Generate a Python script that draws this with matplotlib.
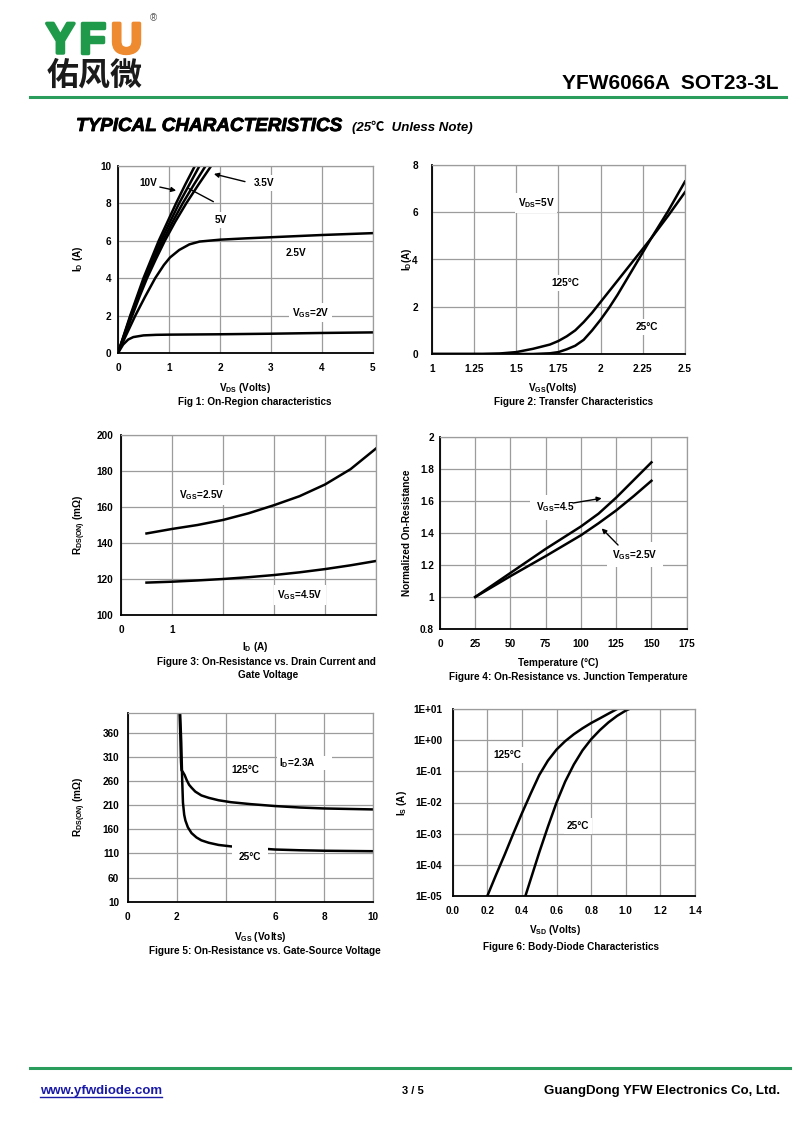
import matplotlib
matplotlib.use('Agg')
import matplotlib.pyplot as plt
from matplotlib.patches import Rectangle
from matplotlib.lines import Line2D
from matplotlib.ticker import NullLocator
import matplotlib.patheffects as pe

plt.rcParams['font.family'] = ['Liberation Sans', 'Noto Sans CJK SC', 'DejaVu Sans']
plt.rcParams['font.weight'] = 'bold'
plt.rcParams['mathtext.fontset'] = 'custom'
plt.rcParams['mathtext.rm'] = 'Liberation Sans'
plt.rcParams['mathtext.it'] = 'Liberation Sans'
plt.rcParams['mathtext.bf'] = 'Liberation Sans:bold'
plt.rcParams['mathtext.default'] = 'rm'

# ---------------- data ----------------
# Fig 1: On-region characteristics (VDS, ID)
f1_vds_10v = [0, 0.12, 0.24, 0.37, 0.5, 0.65, 0.8, 0.97, 1.14, 1.32, 1.51]
f1_id_10v = [0, 1, 2, 3, 4, 5, 6, 7, 8, 9, 10]
f1_vds_5v = [0, 0.125, 0.25, 0.385, 0.52, 0.68, 0.84, 1.02, 1.2, 1.4, 1.6]
f1_id_5v = [0, 1, 2, 3, 4, 5, 6, 7, 8, 9, 10]
f1_vds_45v = [0, 0.13, 0.265, 0.4, 0.545, 0.71, 0.88, 1.07, 1.27, 1.49, 1.72]
f1_id_45v = [0, 1, 2, 3, 4, 5, 6, 7, 8, 9, 10]
f1_vds_35v = [0, 0.14, 0.28, 0.42, 0.57, 0.74, 0.92, 1.12, 1.34, 1.58, 1.83]
f1_id_35v = [0, 1, 2, 3, 4, 5, 6, 7, 8, 9, 10]
f1_vds_25v = [0, 0.15, 0.34, 0.53, 0.73, 0.9, 1.02, 1.2, 1.4, 1.6, 2.0, 2.5, 3.0, 3.5, 4.0, 4.5, 5.0]
f1_id_25v = [0, 0.9, 2.0, 3.0, 4.0, 4.7, 5.1, 5.5, 5.8, 5.95, 6.05, 6.12, 6.18, 6.24, 6.3, 6.35, 6.4]
f1_vds_2v = [0, 0.1, 0.2, 0.3, 0.5, 0.75, 1.0, 2.0, 3.0, 4.0, 5.0]
f1_id_2v = [0, 0.45, 0.72, 0.85, 0.94, 0.97, 0.98, 1.0, 1.03, 1.07, 1.1]

# Fig 2: Transfer characteristics (VGS, ID)
f2_vgs_125 = [1.0, 1.3, 1.4, 1.5, 1.6, 1.7, 1.75, 1.8, 1.85, 1.9, 1.95, 2.0, 2.1, 2.2, 2.3, 2.4, 2.5]
f2_id_125 = [0, 0, 0.02, 0.08, 0.22, 0.4, 0.55, 0.75, 1.0, 1.35, 1.75, 2.2, 3.1, 4.0, 4.9, 5.85, 6.85]
f2_vgs_25 = [1.0, 1.6, 1.7, 1.75, 1.8, 1.85, 1.9, 1.95, 2.0, 2.05, 2.1, 2.2, 2.3, 2.4, 2.5]
f2_id_25 = [0, 0, 0.03, 0.08, 0.2, 0.35, 0.6, 1.0, 1.45, 1.95, 2.5, 3.7, 4.9, 6.05, 7.3]

# Fig 3: RDS(on) vs drain current
f3_id = [0.5, 1, 1.5, 2, 2.5, 3, 3.5, 4, 4.5, 5]
f3_r_25v = [145.3, 147.8, 150.0, 152.8, 156.5, 161.0, 166.0, 172.5, 181.0, 192.5]
f3_r_45v = [118.0, 118.5, 119.2, 120.0, 121.0, 122.2, 123.7, 125.5, 127.6, 130.0]

# Fig 4: normalized on-resistance vs temperature
f4_t_45 = [25, 37.5, 50, 62.5, 75, 87.5, 100, 112.5, 125, 137.5, 150]
f4_r_45 = [1.0, 1.075, 1.15, 1.225, 1.3, 1.37, 1.44, 1.52, 1.62, 1.73, 1.84]
f4_t_25 = [25, 50, 75, 100, 112.5, 125, 137.5, 150]
f4_r_25 = [1.0, 1.13, 1.255, 1.385, 1.46, 1.54, 1.63, 1.725]

# Fig 5: RDS(on) vs gate-source voltage
f5_vgs_125 = [2.1, 2.14, 2.17, 2.19, 2.24, 2.32, 2.4, 2.5, 2.6, 2.75, 3.0, 3.3, 3.7, 4.2, 5.0, 6.0, 7.0, 8.0, 9.0, 10.0]
f5_r_125 = [420, 360, 300, 282, 279, 272, 262, 252, 246, 238, 230, 225, 220, 216, 212, 208, 205, 203, 202, 201]
f5_vgs_25 = [2.12, 2.18, 2.22, 2.25, 2.3, 2.35, 2.45, 2.6, 2.8, 3.0, 3.3, 3.7, 4.2, 5.0, 6.0, 7.0, 8.0, 9.0, 10.0]
f5_r_25 = [420, 340, 260, 215, 190, 178, 164, 152, 143, 137, 132, 127.5, 124.5, 121.5, 118, 116.5, 115.5, 115, 114.5]

# Fig 6: body-diode characteristics (VSD, IS)
f6_vsd_125 = [0.2, 0.25, 0.3, 0.35, 0.4, 0.45, 0.5, 0.55, 0.6, 0.65, 0.7, 0.75, 0.8, 0.85, 0.9, 0.95]
f6_is_125 = [1e-5, 4.7e-5, 2.1e-4, 1.0e-3, 4.5e-3, 1.9e-2, 7.6e-2, 0.22, 0.5, 0.93, 1.55, 2.4, 3.55, 5.0, 7.1, 10.0]
f6_vsd_25 = [0.42, 0.46, 0.5, 0.55, 0.6, 0.65, 0.7, 0.75, 0.8, 0.85, 0.9, 0.95, 1.0, 1.02]
f6_is_25 = [1e-5, 5.0e-5, 2.5e-4, 1.66e-3, 1e-2, 4.7e-2, 0.166, 0.47, 1.07, 2.09, 3.72, 6.03, 8.9, 10.0]

f2_xticklabels = ['1', '1.25', '1.5', '1.75', '2', '2.25', '2.5']
f4_yticklabels = ['0.8', '1', '1.2', '1.4', '1.6', '1.8', '2']
f6_yticklabels = ['1E-05', '1E-04', '1E-03', '1E-02', '1E-01', '1E+00', '1E+01']
f6_xticklabels = ['0.0', '0.2', '0.4', '0.6', '0.8', '1.0', '1.2', '1.4']

# ---------------- figure ----------------
W, H = 800, 1130
fig = plt.figure(figsize=(8, 11.3), dpi=100)

GREEN = '#2a9d5c'
LW = 1.8
FS = 7.2


def make_ax(l, t, r, b):
    return fig.add_axes([l / W, 1 - b / H, (r - l) / W, (b - t) / H])


def style(ax, ypad=5):
    ax.grid(True, color='#9c9c9c', lw=0.9)
    ax.set_axisbelow(True)
    for s in ['top', 'right']:
        ax.spines[s].set_color('#9c9c9c')
        ax.spines[s].set_linewidth(0.9)
    for s in ['left', 'bottom']:
        ax.spines[s].set_color('black')
        ax.spines[s].set_linewidth(1.3)
    ax.tick_params(length=0, labelsize=FS)
    ax.tick_params(axis='x', pad=7.5)
    ax.tick_params(axis='y', pad=ypad)


def ptext(x, y, s, **kw):
    d = dict(ha='center', va='center', fontsize=FS, fontweight='bold')
    d.update(kw)
    return fig.text(x / W, 1 - y / H, s, **d)


def label(ax, x, y, s, **kw):
    d = dict(ha='center', va='center', fontsize=FS, fontweight='bold', zorder=4,
             bbox=dict(facecolor='white', edgecolor='none', pad=2))
    d.update(kw)
    return ax.text(x, y, s, **d)


def arrow(ax, start, end, style_='-|>'):
    ax.annotate('', xy=end, xytext=start,
                arrowprops=dict(arrowstyle=style_, color='black', lw=1.0,
                                mutation_scale=7, shrinkA=0, shrinkB=0), zorder=5)


# ---- Fig 1 ----
ax1 = make_ax(118, 165.7, 373, 353)
for xs, ys in [(f1_vds_10v, f1_id_10v), (f1_vds_5v, f1_id_5v), (f1_vds_45v, f1_id_45v),
               (f1_vds_35v, f1_id_35v), (f1_vds_25v, f1_id_25v), (f1_vds_2v, f1_id_2v)]:
    ax1.plot(xs, ys, color='black', lw=LW, solid_joinstyle='round')
ax1.set_xlim(0, 5)
ax1.set_ylim(0, 10)
ax1.set_xticks([0, 1, 2, 3, 4, 5])
ax1.set_yticks([0, 2, 4, 6, 8, 10])
style(ax1, ypad=4.5)
label(ax1, 0.59, 9.08, '10V')
arrow(ax1, (0.82, 8.86), (1.14, 8.67))
label(ax1, 2.02, 7.1, '5V')
arrow(ax1, (1.87, 8.08), (1.38, 8.79), style_='-')
label(ax1, 2.86, 9.08, '3.5V')
arrow(ax1, (2.49, 9.15), (1.88, 9.56))
label(ax1, 3.48, 5.36, '2.5V')
label(ax1, 3.78, 2.15, 'V$_{GS}$=2V')
ptext(78, 259, 'I$_D$ (A)', rotation=90)
ptext(245, 388, 'V$_{DS}$ (Volts)')
ptext(255, 402, 'Fig 1: On-Region characteristics')

# ---- Fig 2 ----
ax2 = make_ax(431.7, 165, 685, 354)
ax2.plot(f2_vgs_125, f2_id_125, color='black', lw=LW, solid_joinstyle='round')
ax2.plot(f2_vgs_25, f2_id_25, color='black', lw=LW, solid_joinstyle='round')
ax2.set_xlim(1, 2.5)
ax2.set_ylim(0, 8)
ax2.set_xticks([1, 1.25, 1.5, 1.75, 2, 2.25, 2.5])
ax2.set_xticklabels(f2_xticklabels)
ax2.set_yticks([0, 2, 4, 6, 8])
style(ax2, ypad=10)
label(ax2, 1.618, 6.39, 'V$_{DS}$=5V')
label(ax2, 1.789, 3.0, '125°C')
label(ax2, 2.275, 1.14, '25°C')
ptext(407, 259, 'I$_D$(A)', rotation=90)
ptext(553, 388, 'V$_{GS}$(Volts)')
ptext(574, 402, 'Figure 2: Transfer Characteristics')

# ---- Fig 3 ----
ax3 = make_ax(121, 435, 376, 615)
ax3.plot(f3_id, f3_r_25v, color='black', lw=LW, solid_joinstyle='round')
ax3.plot(f3_id, f3_r_45v, color='black', lw=LW, solid_joinstyle='round')
ax3.set_xlim(0, 5)
ax3.set_ylim(100, 200)
ax3.set_xticks([0, 1, 2, 3, 4, 5])
ax3.set_xticklabels(['0', '1', '', '', '', ''])
ax3.set_yticks([100, 120, 140, 160, 180, 200])
style(ax3, ypad=5.5)
label(ax3, 1.59, 166.7, 'V$_{GS}$=2.5V')
label(ax3, 3.51, 111.1, 'V$_{GS}$=4.5V')
ptext(80, 525, 'R$_{DS(ON)}$ (mΩ)', rotation=90)
ptext(255, 647, 'I$_D$ (A)')
ptext(266, 662, 'Figure 3: On-Resistance vs. Drain Current and')
ptext(268, 675, 'Gate Voltage')

# ---- Fig 4 ----
ax4 = make_ax(440, 436.7, 686.7, 629)
ax4.plot(f4_t_45, f4_r_45, color='black', lw=LW, solid_joinstyle='round')
ax4.plot(f4_t_25, f4_r_25, color='black', lw=LW, solid_joinstyle='round')
ax4.set_xlim(0, 175)
ax4.set_ylim(0.8, 2.0)
ax4.set_xticks([0, 25, 50, 75, 100, 125, 150, 175])
ax4.set_yticks([0.8, 1.0, 1.2, 1.4, 1.6, 1.8, 2.0])
ax4.set_yticklabels(f4_yticklabels)
style(ax4, ypad=4.5)
label(ax4, 81.6, 1.561, 'V$_{GS}$=4.5', bbox=dict(facecolor='white', edgecolor='none', pad=4))
arrow(ax4, (94.3, 1.586), (114.7, 1.616))
label(ax4, 138.3, 1.262, 'V$_{GS}$=2.5V', bbox=dict(facecolor='white', edgecolor='none', pad=4))
arrow(ax4, (126.3, 1.324), (114.7, 1.428))
ptext(407, 533, 'Normalized On-Resistance', rotation=90)
ptext(558, 663, 'Temperature (°C)')
ptext(568, 677, 'Figure 4: On-Resistance vs. Junction Temperature')

# ---- Fig 5 ----
ax5 = make_ax(127.7, 713.3, 373.3, 901.7)
ax5.plot(f5_vgs_125, f5_r_125, color='black', lw=LW, solid_joinstyle='round')
ax5.plot(f5_vgs_25, f5_r_25, color='black', lw=LW, solid_joinstyle='round')
ax5.set_xlim(0, 10)
ax5.set_ylim(10, 400)
ax5.set_xticks([0, 2, 4, 6, 8, 10])
ax5.set_xticklabels(['0', '2', '', '6', '8', '10'])
ax5.set_yticks([10, 60, 110, 160, 210, 260, 310, 360])
style(ax5, ypad=6)
label(ax5, 4.78, 282, '125°C')
label(ax5, 6.93, 297, 'I$_D$=2.3A')
ax5.add_patch(Rectangle((7.7, 282), 0.6, 30, facecolor='white', edgecolor='none', zorder=3))
label(ax5, 4.98, 102.5, '25°C', bbox=dict(facecolor='white', edgecolor='none', pad=5))
ptext(80, 807, 'R$_{DS(ON)}$ (mΩ)', rotation=90)
ptext(260, 937, 'V$_{GS}$ (Volts)')
ptext(265, 951, 'Figure 5: On-Resistance vs. Gate-Source Voltage')

# ---- Fig 6 ----
ax6 = make_ax(452.7, 709, 695, 896)
ax6.plot(f6_vsd_125, f6_is_125, color='black', lw=LW, solid_joinstyle='round')
ax6.plot(f6_vsd_25, f6_is_25, color='black', lw=LW, solid_joinstyle='round')
ax6.set_yscale('log')
ax6.set_xlim(0, 1.4)
ax6.set_ylim(1e-5, 10)
ax6.set_yticks([1e-5, 1e-4, 1e-3, 1e-2, 1e-1, 1e0, 1e1])
ax6.set_yticklabels(f6_yticklabels)
ax6.yaxis.set_minor_locator(NullLocator())
ax6.set_xticks([0, 0.2, 0.4, 0.6, 0.8, 1.0, 1.2, 1.4])
ax6.set_xticklabels(f6_xticklabels)
style(ax6, ypad=7.5)
label(ax6, 0.314, 0.334, '125°C')
label(ax6, 0.724, 1.76e-3, '25°C')
ptext(402, 803, 'I$_S$ (A)', rotation=90)
ptext(555, 930, 'V$_{SD}$ (Volts)')
ptext(571, 947, 'Figure 6: Body-Diode Characteristics')

# ---------------- header ----------------
LOGO_G = '#1f9a4a'
LOGO_O = '#ee8a30'
for xx, ch, col in [(46, 'Y', LOGO_G), (79, 'F', LOGO_G), (111, 'U', LOGO_O)]:
    fig.text(xx / W, 1 - 53 / H, ch, fontsize=31, color=col, fontweight='bold', va='baseline',
             path_effects=[pe.withStroke(linewidth=2.5, foreground=col)])
fig.text(150 / W, 1 - 18 / H, '®', fontsize=7, color='#555555', fontweight='normal', va='center')
fig.text(47 / W, 1 - 76 / H, '佑风微', fontsize=23, color='#1a1a1a', fontweight='bold',
         va='center', fontfamily=['Noto Sans CJK SC', 'DejaVu Sans'])
fig.text(778 / W, 1 - 89 / H, 'YFW6066A  SOT23-3L', fontsize=15, fontweight='bold',
         ha='right', va='baseline')
fig.add_artist(Line2D([30 / W, 786 / W], [1 - 96.5 / H, 1 - 96.5 / H], color=GREEN, lw=2.2))
fig.text(76 / W, 1 - 131 / H, 'TYPICAL CHARACTERISTICS', fontsize=13.6, fontweight='bold',
         fontstyle='italic', va='baseline',
         path_effects=[pe.withStroke(linewidth=0.6, foreground='black')])
fig.text(352 / W, 1 - 131 / H, '(25℃  Unless Note)', fontsize=9.5, fontweight='bold',
         fontstyle='italic', va='baseline')

# ---------------- footer ----------------
fig.add_artist(Line2D([30 / W, 790 / W], [1 - 1068 / H, 1 - 1068 / H], color=GREEN, lw=2.2))
url = fig.text(40 / W, 1 - 1094 / H, 'www.yfwdiode.com', fontsize=9.5, fontweight='bold',
               color='#1a1aa8', va='baseline')
fig.text(413 / W, 1 - 1094 / H, '3 / 5', fontsize=8, fontweight='bold', ha='center', va='baseline')
fig.text(780 / W, 1 - 1094 / H, 'GuangDong YFW Electronics Co, Ltd.', fontsize=9.5,
         fontweight='bold', ha='right', va='baseline')

fig.canvas.draw()
bb = url.get_window_extent(renderer=fig.canvas.get_renderer())
uy = (bb.y0 + 0.0) / fig.bbox.height
fig.add_artist(Line2D([bb.x0 / fig.bbox.width, bb.x1 / fig.bbox.width], [uy, uy],
                      color='#1a1aa8', lw=1.0))

fig.savefig('out.png', dpi=100, facecolor='white')
